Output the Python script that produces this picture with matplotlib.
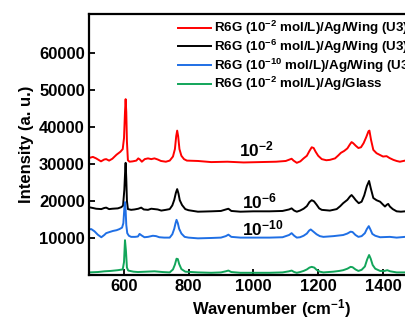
import matplotlib
matplotlib.use('Agg')
import matplotlib.pyplot as plt

plt.rcParams['font.family'] = ['Liberation Sans', 'DejaVu Sans']
plt.rcParams['font.weight'] = 'bold'
plt.rcParams['mathtext.fontset'] = 'custom'
plt.rcParams['mathtext.rm'] = 'Liberation Sans:bold'
plt.rcParams['mathtext.bf'] = 'Liberation Sans:bold'
plt.rcParams['mathtext.default'] = 'bf'

# Spectra (wavenumber in cm-1, intensity in a. u.)
red_x = [493, 505, 515, 530, 540, 546, 555, 565, 578, 590, 597, 601, 604, 606, 608, 610, 613, 618,
         628, 639, 645, 650, 656, 665, 675, 685, 695, 705, 715, 730, 742, 752, 758, 762, 765, 768,
         772, 778, 786, 795, 829, 870, 920, 970, 1020, 1070, 1100, 1112, 1118, 1124, 1134, 1145,
         1155, 1165, 1173, 1180, 1186, 1192, 1200, 1211, 1225, 1236, 1252, 1262, 1270, 1280, 1290,
         1298, 1303, 1308, 1316, 1324, 1332, 1340, 1348, 1355, 1358, 1363, 1370, 1380, 1391, 1400,
         1411, 1420, 1432, 1442, 1452, 1468]
red_y = [31600, 31900, 31500, 30700, 31200, 31300, 30900, 31400, 32500, 33300, 34000, 37000, 44000,
         47500, 44000, 36000, 31000, 30600, 30700, 30900, 31500, 31200, 30600, 31300, 31500, 31300,
         31500, 31200, 30800, 30600, 30900, 32000, 34000, 37500, 39000, 37500, 34000, 32200, 31300,
         30900, 30800, 30500, 30600, 30400, 30500, 30600, 30800, 31200, 31400, 30900, 30300, 30700,
         31500, 32200, 33500, 34500, 34300, 33300, 32200, 31300, 31000, 31100, 31500, 32300, 33000,
         33500, 34200, 35300, 35900, 35600, 34900, 34300, 34500, 35600, 37200, 38800, 39000, 36500,
         33800, 32900, 32400, 32000, 32100, 31600, 31100, 30800, 30600, 30900]

black_x = [493, 505, 515, 531, 540, 546, 555, 565, 582, 592, 598, 602, 605, 606, 608, 610, 613, 623,
           633, 645, 654, 662, 675, 685, 695, 705, 716, 730, 742, 750, 756, 761, 765, 769, 773, 780,
           790, 800, 829, 870, 900, 915, 923, 932, 960, 1000, 1050, 1090, 1110, 1118, 1126, 1134,
           1144, 1155, 1165, 1173, 1180, 1187, 1195, 1203, 1211, 1236, 1257, 1268, 1277, 1290, 1298,
           1303, 1309, 1316, 1325, 1334, 1342, 1350, 1357, 1362, 1370, 1380, 1391, 1400, 1406, 1412,
           1416, 1421, 1430, 1442, 1455, 1468]
black_y = [18300, 18100, 17900, 17800, 18100, 18200, 17800, 17900, 18000, 18300, 18700, 23000,
           29000, 30300, 26000, 20000, 17800, 17600, 17700, 17900, 18200, 17700, 17600, 17900,
           17800, 17700, 17400, 17600, 17800, 18800, 20300, 22200, 23200, 22000, 20200, 18900,
           17800, 17500, 17100, 17200, 17300, 17700, 17900, 17300, 17100, 17200, 17200, 17300,
           17700, 18000, 17400, 17100, 17400, 17900, 18600, 19700, 20200, 19900, 19000, 18000,
           17600, 17400, 17800, 18600, 19400, 20300, 21200, 21600, 21000, 20200, 19400, 19800,
           21500, 24000, 25400, 23500, 20800, 20200, 19800, 19000, 18500, 19000, 19200, 18500,
           17800, 17200, 17100, 17200]

blue_x = [493, 500, 510, 520, 531, 540, 546, 556, 567, 578, 587, 595, 599, 602, 604, 606, 608, 611,
          616, 623, 635, 644, 649, 655, 664, 675, 690, 700, 710, 725, 742, 750, 756, 760, 763, 767,
          771, 778, 788, 800, 829, 870, 900, 915, 923, 932, 960, 1000, 1050, 1090, 1110, 1118,
          1126, 1134, 1144, 1155, 1165, 1172, 1177, 1184, 1195, 1205, 1216, 1247, 1277, 1290, 1300,
          1306, 1315, 1324, 1334, 1344, 1350, 1356, 1361, 1367, 1376, 1391, 1421, 1442, 1468]
blue_y = [12300, 12400, 11800, 10900, 10200, 10800, 11300, 11600, 11900, 12100, 12400, 12800,
          14000, 18000, 19700, 17500, 13500, 11300, 10600, 10300, 10300, 10400, 11100, 10700,
          10200, 10300, 10600, 10500, 10200, 10100, 10100, 11000, 12500, 14000, 14900, 14000,
          12500, 11200, 10300, 10100, 9900, 10000, 10100, 10500, 10900, 10300, 10100, 10100,
          10100, 10200, 10800, 11300, 10600, 10100, 10200, 10600, 11200, 12000, 12300, 11800,
          11000, 10500, 10300, 10500, 10800, 11200, 11700, 11600, 10800, 10300, 10500, 11300,
          12400, 13200, 12300, 11100, 10600, 10200, 10300, 10100, 10300]

green_x = [493, 520, 541, 560, 582, 597, 601, 604, 607, 610, 614, 630, 644, 670, 695, 720, 742, 752,
           758, 763, 767, 771, 778, 790, 829, 870, 900, 915, 923, 932, 960, 1000, 1050, 1090, 1110,
           1118, 1126, 1134, 1144, 1155, 1165, 1173, 1180, 1188, 1195, 1205, 1216, 1247, 1265, 1277,
           1290, 1300, 1306, 1315, 1324, 1334, 1344, 1351, 1357, 1362, 1368, 1376, 1391, 1405, 1413,
           1422, 1442, 1468]
green_y = [700, 800, 1000, 1100, 1300, 1500, 3500, 9400, 6500, 2000, 1200, 900, 800, 900, 1000,
           800, 700, 1500, 2800, 4400, 4300, 3000, 1600, 900, 700, 600, 700, 1000, 1200, 800, 600,
           600, 600, 700, 1000, 1200, 800, 600, 800, 1100, 1500, 2000, 2200, 2000, 1400, 900, 700,
           900, 1100, 1300, 1700, 2200, 2100, 1500, 1100, 1400, 2300, 4200, 5400, 4400, 2700, 1700,
           1100, 1100, 1300, 1000, 700, 700]

labels = ['R6G (10$^{-2}$ mol/L)/Ag/Wing (U3)',
          'R6G (10$^{-6}$ mol/L)/Ag/Wing (U3)',
          'R6G (10$^{-10}$ mol/L)/Ag/Wing (U3)',
          'R6G (10$^{-2}$ mol/L)/Ag/Glass']
colors = ['#ff0000', '#000000', '#1f6fe5', '#12a55a']
x_ticks = [600, 800, 1000, 1200, 1400]
y_ticks = [10000, 20000, 30000, 40000, 50000, 60000]

fig = plt.figure(figsize=(4.06, 3.2), dpi=100)
# the plot box runs past the right edge of the picture, as in the reference
ax = fig.add_axes([89 / 406, 45 / 320, 366 / 406, 261 / 320])

for xs, ys, c, lab in zip([red_x, black_x, blue_x, green_x],
                          [red_y, black_y, blue_y, green_y], colors, labels):
    ax.plot(xs, ys, color=c, lw=1.4, label=lab)

ax.set_xlim(493, 1622)
ax.set_ylim(0, 70500)
ax.set_xticks(x_ticks)
ax.set_yticks(y_ticks)
ax.tick_params(direction='in', length=4, width=1.3, labelsize=12, pad=3)
for s in ax.spines.values():
    s.set_linewidth(1.6)

ax.set_xlabel('Wavenumber (cm$^{-1}$)', fontsize=12, fontweight='bold', labelpad=2)
ax.set_ylabel('Intensity (a. u.)', fontsize=12, fontweight='bold', labelpad=4)

ax.text(1010, 33800, '10$^{-2}$', fontsize=12.5, ha='center', va='center')
ax.text(1020, 19900, '10$^{-6}$', fontsize=12.5, ha='center', va='center')
ax.text(1030, 12500, '10$^{-10}$', fontsize=12.5, ha='center', va='center')

ax.legend(loc='upper left', bbox_to_anchor=(178 / 406, 1 - 19 / 320),
          bbox_transform=fig.transFigure, frameon=False, fontsize=9.6,
          handlelength=2.5, handletextpad=0.2, labelspacing=0.04, borderpad=0,
          borderaxespad=0)

fig.savefig('out.png', dpi=100)
